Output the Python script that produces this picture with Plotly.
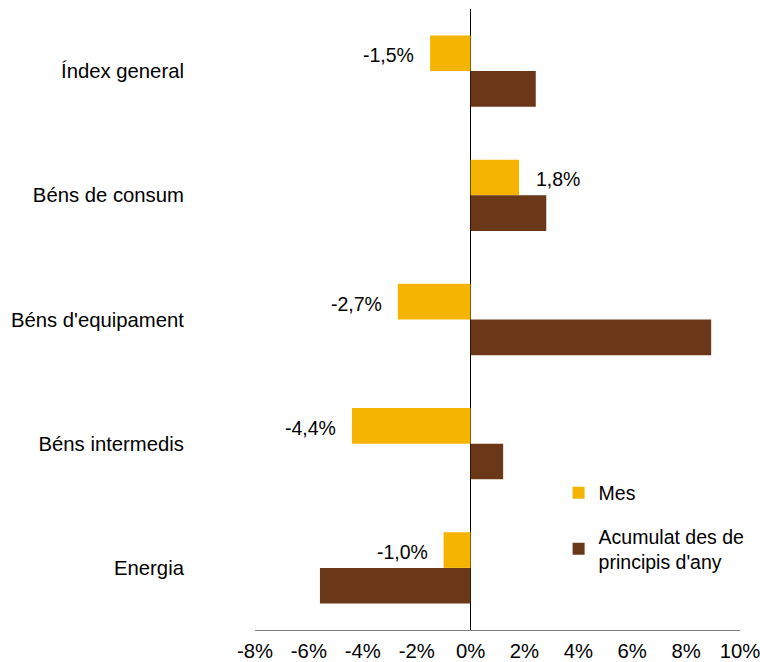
import plotly.graph_objects as go

categories = ["Índex general", "Béns de consum", "Béns d'equipament", "Béns intermedis", "Energia"]
mes = [-1.5, 1.8, -2.7, -4.4, -1.0]
acumulat = [2.42, 2.81, 8.93, 1.21, -5.59]
series_names = ["Mes", "Acumulat des de<br>principis d'any"]
x_tickvals = [-8, -6, -4, -2, 0, 2, 4, 6, 8, 10]
x_ticktext = ["-8%", "-6%", "-4%", "-2%", "0%", "2%", "4%", "6%", "8%", "10%"]

FONT = "Liberation Sans, Arial, sans-serif"
FS = 19.5
FS_AX = 20.3
C_MES = "#F5B400"
C_ACU = "#6A3819"

fig = go.Figure()
fig.add_trace(go.Bar(y=categories, x=mes, orientation="h", name=series_names[0],
                     marker=dict(color=C_MES, line=dict(width=0)), legendgroup="a"))
fig.add_trace(go.Bar(y=categories, x=acumulat, orientation="h", name=series_names[1],
                     marker=dict(color=C_ACU, line=dict(width=0)), legendgroup="b"))

annotations = []
for c, v in zip(categories, mes):
    label = f"{v:.1f}%".replace(".", ",")
    annotations.append(dict(
        x=v, y=c, xref="x", yref="y", text=label, showarrow=False,
        xanchor="right" if v < 0 else "left",
        xshift=-14 if v < 0 else 15, yshift=16,
        font=dict(family=FONT, size=FS, color="#000000")))

fig.update_layout(
    width=760, height=662,
    margin=dict(l=255, r=20, t=9, b=32),
    paper_bgcolor="white", plot_bgcolor="white",
    barmode="group", bargap=0.426, bargroupgap=0,
    font=dict(family=FONT, size=FS, color="#000000"),
    showlegend=True,
    legend=dict(x=0.626, y=0.252, xanchor="left", yanchor="top",
                bgcolor="rgba(0,0,0,0)", tracegroupgap=15,
                font=dict(family=FONT, size=FS, color="#000000")),
    annotations=annotations,
)
fig.update_xaxes(range=[-8, 10], tickvals=x_tickvals, ticktext=x_ticktext,
                 showgrid=False, zeroline=True, zerolinecolor="#000000", zerolinewidth=1,
                 showline=True, linecolor="#808080", linewidth=1, automargin=False,
                 ticks="outside", ticklen=3, tickcolor="rgba(0,0,0,0)",
                 ticklabeloverflow="allow",
                 tickfont=dict(family=FONT, size=FS_AX))
fig.update_yaxes(autorange="reversed", showgrid=False, showline=False, automargin=False,
                 ticks="outside", ticklen=66, tickcolor="rgba(0,0,0,0)",
                 tickfont=dict(family=FONT, size=FS_AX))

fig.write_html("out.html", config={"displayModeBar": False},
               post_script="document.body.style.margin='0';document.body.style.padding='0';")
